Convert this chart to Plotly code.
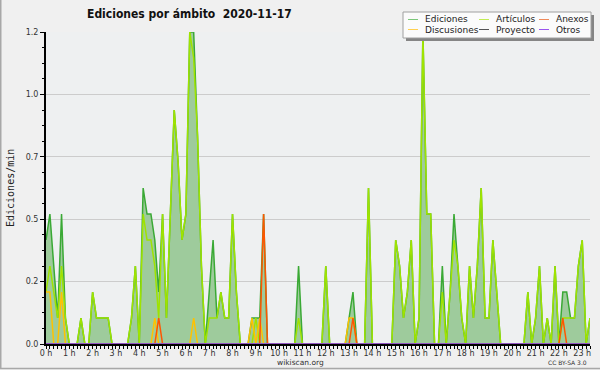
import plotly.graph_objects as go

# ---- data: edits per minute, 10-minute bins, 2020-11-17 (0:00 .. 23:20) ----
BIN_MIN = 10
total = [
    0.4, 0.5, 0.3, 0.1, 0.5, 0.1,   # 0 h
    0, 0, 0, 0.1, 0, 0,             # 1 h
    0.2, 0.1, 0.1, 0.1, 0.1, 0,     # 2 h
    0, 0, 0, 0, 0.1, 0.3,           # 3 h
    0, 0.6, 0.5, 0.5, 0.4, 0.2,     # 4 h
    0.5, 0.1, 0.5, 0.9, 0.7, 0.4,   # 5 h
    0.5, 1.2, 1.2, 0.8, 0.3, 0,     # 6 h
    0.2, 0.4, 0.1, 0.2, 0.1, 0.1,   # 7 h
    0.5, 0.2, 0, 0, 0, 0.1,         # 8 h
    0.1, 0.1, 0.5, 0, 0, 0,         # 9 h
    0, 0, 0, 0, 0, 0.3,             # 10 h
    0, 0, 0, 0, 0, 0,               # 11 h
    0.3, 0, 0, 0, 0, 0,             # 12 h
    0.1, 0.2, 0, 0, 0, 0.6,         # 13 h
    0, 0, 0, 0, 0, 0,               # 14 h
    0.4, 0.3, 0.1, 0.2, 0.4, 0,     # 15 h
    0.1, 1.2, 0.5, 0.5, 0, 0,       # 16 h
    0.3, 0, 0.2, 0.5, 0.3, 0.1,     # 17 h
    0, 0.3, 0.1, 0.3, 0.6, 0.1,     # 18 h
    0.1, 0.4, 0.2, 0, 0, 0,         # 19 h
    0, 0, 0, 0, 0.2, 0,             # 20 h
    0.1, 0.3, 0, 0.1, 0, 0.3,       # 21 h
    0, 0.2, 0.2, 0.1, 0.1, 0.3,     # 22 h
    0.4, 0, 0.1,                    # 23 h
]
articulos = [
    0.2, 0.3, 0.2, 0.1, 0.3, 0.1,
    0, 0, 0, 0.1, 0, 0,
    0.2, 0.1, 0.1, 0.1, 0.1, 0,
    0, 0, 0, 0, 0.1, 0.3,
    0, 0.5, 0.4, 0.4, 0.3, 0.1,
    0.5, 0.1, 0.5, 0.9, 0.7, 0.4,
    0.5, 1.2, 1.1, 0.8, 0.3, 0,
    0.1, 0.1, 0.1, 0.2, 0.1, 0.1,
    0.5, 0.2, 0, 0, 0, 0,
    0.1, 0, 0, 0, 0, 0,
    0, 0, 0, 0, 0, 0.1,
    0, 0, 0, 0, 0, 0,
    0.3, 0, 0, 0, 0, 0,
    0, 0, 0, 0, 0, 0.6,
    0, 0, 0, 0, 0, 0,
    0.4, 0.3, 0.1, 0.2, 0.4, 0,
    0.1, 1.2, 0.5, 0.5, 0, 0,
    0.2, 0, 0.2, 0.4, 0.3, 0.1,
    0, 0.3, 0.1, 0.3, 0.6, 0.1,
    0.1, 0.4, 0.2, 0, 0, 0,
    0, 0, 0, 0, 0.2, 0,
    0.1, 0.3, 0, 0.1, 0, 0.3,
    0, 0.1, 0.1, 0.1, 0.1, 0.3,
    0.4, 0, 0.1,
]
discusiones = [
    0.2, 0.2, 0, 0, 0.2, 0,
    0, 0, 0, 0, 0, 0,
    0, 0, 0, 0, 0, 0,
    0, 0, 0, 0, 0, 0,
    0, 0, 0, 0, 0.1, 0,
    0, 0, 0, 0, 0, 0,
    0, 0, 0.1, 0, 0, 0,
    0, 0, 0, 0, 0, 0,
    0, 0, 0, 0, 0, 0.1,
    0, 0.1, 0, 0, 0, 0,
    0, 0, 0, 0, 0, 0,
    0, 0, 0, 0, 0, 0,
    0, 0, 0, 0, 0, 0,
    0.1, 0.1, 0, 0, 0, 0,
    0, 0, 0, 0, 0, 0,
    0, 0, 0, 0, 0, 0,
    0, 0, 0, 0, 0, 0,
    0, 0, 0, 0, 0, 0,
    0, 0, 0, 0, 0, 0,
    0, 0, 0, 0, 0, 0,
    0, 0, 0, 0, 0, 0,
    0, 0, 0, 0, 0, 0,
    0, 0, 0, 0, 0, 0,
    0, 0, 0,
]
anexos = [0.0] * len(total)
for idx, v in [(29, 0.1), (56, 0.5), (79, 0.1), (133, 0.1)]:
    anexos[idx] = v
proyecto = [0.0] * len(total)
otros = [0.0] * len(total)

hours = [i * BIN_MIN / 60 for i in range(len(total))]
tick_hours = list(range(24))
tick_labels = [f"{h} h" for h in tick_hours]
y_tickvals = [0, 0.24, 0.48, 0.72, 0.96, 1.2]
y_ticktext = ["0.0", "0.2", "0.5", "0.7", "1.0", "1.2"]

series = [
    ("Artículos", articulos, "#9fe300"),
    ("Discusiones", discusiones, "#ffc200"),
    ("Anexos", anexos, "#ff5500"),
    ("Proyecto", proyecto, "#555555"),
    ("Otros", otros, "#9a55ee"),
]

W, H = 600, 370
L, R, T, B = 46, 10, 32, 26
PW, PH = W - L - R, H - T - B


def px(x):
    return (x - L) / PW


def py(y):
    return (H - B - y) / PH


fig = go.Figure()
fig.add_trace(go.Scatter(
    x=hours, y=total, mode="lines", name="Ediciones",
    line=dict(color="#3aa935", width=1.5),
    fill="tozeroy", fillcolor="#9ecb9c", showlegend=False,
))
for name, vals, color in series:
    fig.add_trace(go.Scatter(
        x=hours, y=vals, mode="lines", name=name,
        line=dict(color=color, width=1.5), showlegend=False,
    ))

font_tick = dict(family="DejaVu Sans", size=8, color="#333333")

fig.update_layout(
    width=W, height=H,
    margin=dict(l=L, r=R, t=T, b=B, pad=0),
    paper_bgcolor="#f0f0f0",
    plot_bgcolor="#eef0f1",
    showlegend=False,
    xaxis=dict(
        range=[0, hours[-1]], tickmode="array", tickvals=tick_hours, ticktext=tick_labels,
        ticks="outside", ticklen=3, tickcolor="black", tickwidth=1,
        minor=dict(tickmode="linear", tick0=0, dtick=1 / 6, ticks="outside",
                   ticklen=3, tickcolor="black", showgrid=False),
        showgrid=False, zeroline=False, showline=True, linecolor="black", linewidth=2,
        tickfont=font_tick, ticklabelstandoff=-3, layer="above traces", fixedrange=True,
    ),
    yaxis=dict(
        range=[0, 1.2], tickmode="array", tickvals=y_tickvals, ticktext=y_ticktext,
        ticks="outside", ticklen=4, tickcolor="black", tickwidth=1,
        minor=dict(tickmode="linear", tick0=0, dtick=0.06, ticks="outside",
                   ticklen=2, tickcolor="black", showgrid=False),
        showgrid=True, gridcolor="#cccccc", gridwidth=1,
        zeroline=False, showline=True, linecolor="black", linewidth=2,
        tickfont=font_tick, layer="above traces", fixedrange=True,
    ),
)

shapes = []
# outer frame (left and bottom)
shapes.append(dict(type="line", xref="paper", yref="paper", x0=px(0.75), x1=px(0.75),
                   y0=py(0), y1=py(369), line=dict(color="#a8a8a8", width=1.5)))
shapes.append(dict(type="line", xref="paper", yref="paper", x0=px(0), x1=px(600),
                   y0=py(368.5), y1=py(368.5), line=dict(color="#a8a8a8", width=1.5)))
# legend box with shadow
shapes.append(dict(type="rect", xref="paper", yref="paper", x0=px(406), x1=px(594),
                   y0=py(15), y1=py(41), fillcolor="#858585", line=dict(width=0)))
shapes.append(dict(type="rect", xref="paper", yref="paper", x0=px(403), x1=px(591),
                   y0=py(12), y1=py(38), fillcolor="#fbfbfb",
                   line=dict(color="#a0a0a0", width=1)))

annotations = []
legend_items = [
    ("Ediciones", "#7cc77a", 408, 19.5),
    ("Artículos", "#c2ec55", 479, 19.5),
    ("Anexos", "#ef8a5a", 539, 19.5),
    ("Discusiones", "#ffd050", 408, 29.5),
    ("Proyecto", "#555555", 479, 29.5),
    ("Otros", "#9a55ee", 539, 29.5),
]
for name, color, lx, ly in legend_items:
    shapes.append(dict(type="line", xref="paper", yref="paper", x0=px(lx), x1=px(lx + 10),
                       y0=py(ly), y1=py(ly), line=dict(color=color, width=1)))
    annotations.append(dict(text=name, xref="paper", yref="paper", x=px(lx + 15), y=py(ly),
                            xanchor="left", yanchor="middle", showarrow=False,
                            font=dict(family="DejaVu Sans", size=9, color="#222222")))

annotations.append(dict(text="<b>Ediciones por ámbito  2020-11-17</b>", xref="paper", yref="paper",
                        x=px(85), y=py(14.5), xanchor="left", yanchor="middle", showarrow=False,
                        font=dict(family="DejaVu Sans Condensed, Liberation Sans", size=12,
                                  color="#111111")))
annotations.append(dict(text="Ediciones/min", xref="paper", yref="paper", x=px(10), y=py(188),
                        xanchor="center", yanchor="middle", textangle=-90, showarrow=False,
                        font=dict(family="DejaVu Sans Mono", size=10, color="#222222")))
annotations.append(dict(text="wikiscan.org", xref="paper", yref="paper", x=px(300), y=py(362),
                        xanchor="center", yanchor="middle", showarrow=False,
                        font=dict(family="DejaVu Sans", size=7.5, color="#333333")))
annotations.append(dict(text="CC BY-SA 3.0", xref="paper", yref="paper", x=px(589), y=py(362.5),
                        xanchor="right", yanchor="middle", showarrow=False,
                        font=dict(family="DejaVu Sans", size=6, color="#333333")))

fig.update_layout(shapes=shapes, annotations=annotations)
fig.write_html("out.html", config={"displayModeBar": False},
               post_script="document.body.style.margin='0px';document.body.style.overflow='hidden';")
